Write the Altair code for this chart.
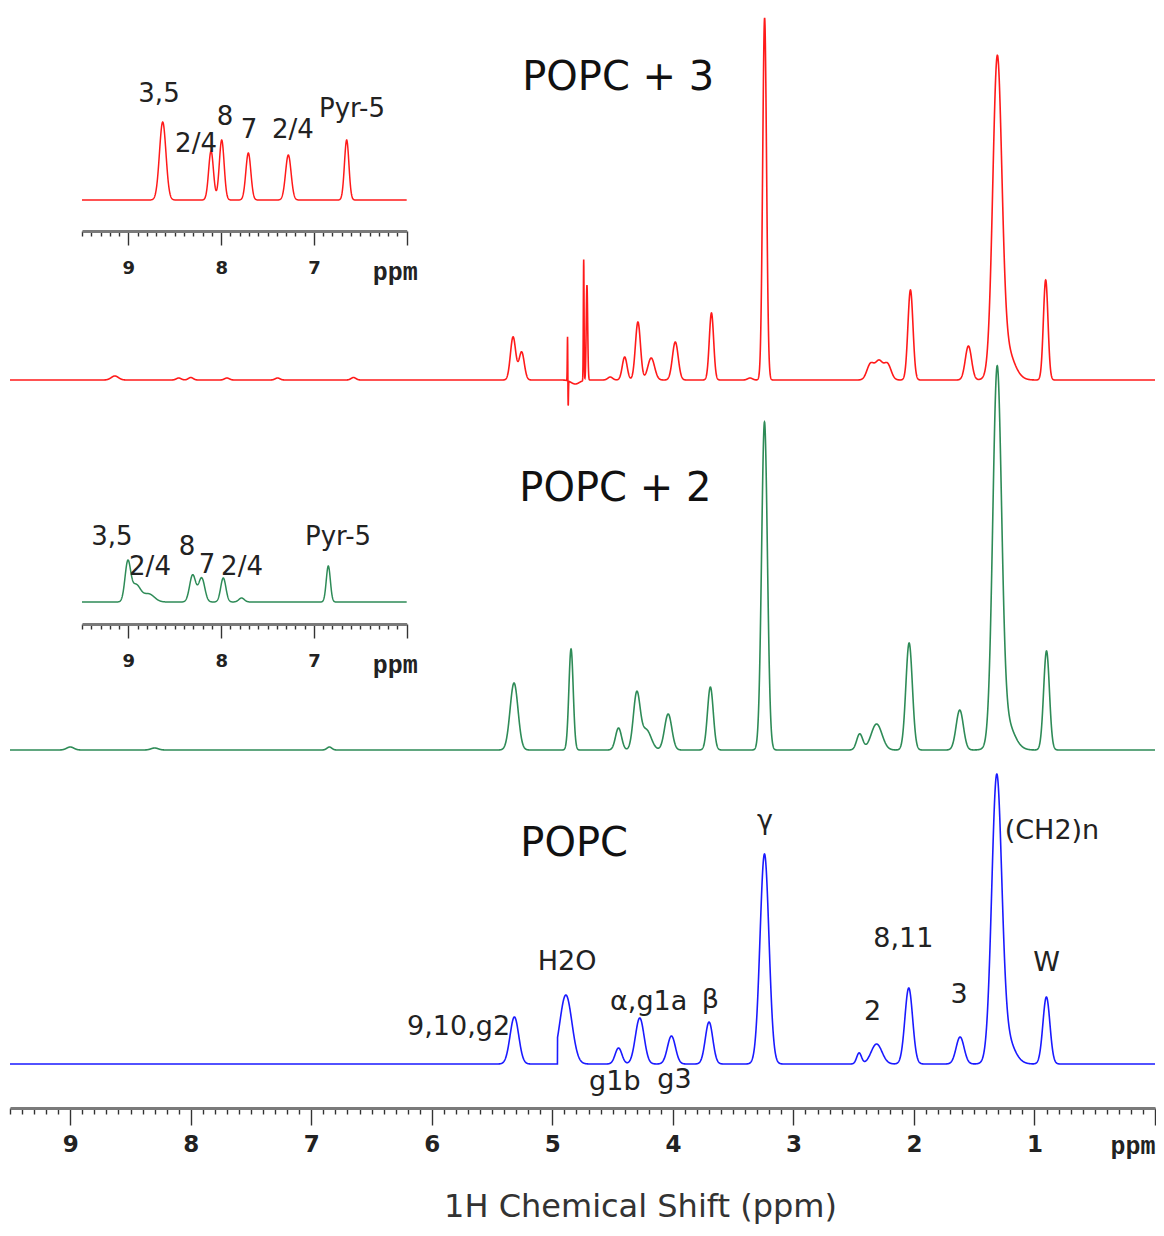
import numpy as np
import pandas as pd
import altair as alt

alt.data_transformers.disable_max_rows()

# ---------------- values ----------------
# Each spectrum is given as a peak list: shift (ppm), height, Gaussian width (ppm)

# POPC (blue)
popc_ppm    = [5.315, 4.888, 4.451, 4.275, 4.012, 3.700, 3.240, 2.455, 2.31, 2.043, 1.617, 1.314, 1.25, 0.901]
popc_height = [47,    69,    16,    46,    28,    42,    210,   11,    20,   76,    27,    270,   30,   67]
popc_width  = [0.036, 0.05,  0.028, 0.036, 0.033, 0.031, 0.037, 0.02,  0.045, 0.032, 0.033, 0.041, 0.07, 0.029]
popc_upper  = [np.inf, 4.957] + [np.inf] * 12   # water line is cut above 4.957 ppm

# POPC + 2 (green)
popc2_ppm    = [9.0,  8.3,  6.85, 5.318, 4.845, 4.451, 4.30, 4.22, 4.039, 3.689, 3.240, 2.45, 2.31, 2.04, 1.62, 1.31, 1.25, 0.90]
popc2_height = [3,    2,    3,    67,    101,   22,    56,   20,   36,    63,    328,   16,   26,   107,  40,   362,  32,   99]
popc2_width  = [0.03, 0.03, 0.02, 0.033, 0.018, 0.025, 0.028, 0.04, 0.03, 0.024, 0.024, 0.025, 0.045, 0.027, 0.03, 0.036, 0.07, 0.024]

# POPC + 3 (red)
popc3_ppm    = [8.63, 8.10, 8.00, 7.70, 7.28, 6.65, 5.326, 5.255, 4.874, 4.869, 4.81, 4.740, 4.713, 4.52, 4.40, 4.29,
                4.18, 3.98, 3.68, 3.36, 3.239, 2.36, 2.29, 2.22, 2.029, 1.548, 1.309, 1.25, 0.907]
popc3_height = [4,    2,    2.5,  2,    2,    2.5,  43,    28,    46,    -28,   -4,   121,   95,    3,    23,   58,
                22,   38,   67,   2,    362,   16,   18,   16,   90,    34,    300,   35,   100]
popc3_width  = [0.03, 0.02, 0.02, 0.02, 0.02, 0.02, 0.022, 0.022, 0.0022, 0.0022, 0.035, 0.003, 0.006, 0.02, 0.02, 0.021,
                0.028, 0.024, 0.018, 0.02, 0.016, 0.03, 0.03, 0.03, 0.021, 0.026, 0.037, 0.07, 0.019]

# aromatic insets
inset3_ppm    = [8.630, 8.109, 7.994, 7.707, 7.276, 6.647]
inset3_height = [78,    49,    60,    47,    45,    60]
inset3_width  = [0.035, 0.026, 0.026, 0.027, 0.03,  0.024]

inset2_ppm    = [9.007, 8.92, 8.78, 8.307, 8.21, 7.977, 7.78, 6.845]
inset2_height = [38,    17,   8,    27,    24,   24,    4,    36]
inset2_width  = [0.03,  0.05, 0.06, 0.033, 0.033, 0.028, 0.03, 0.022]

# annotations: (text, ppm, intensity level)
blue_labels = [("9,10,g2", 5.778, 73), ("H2O", 4.878, 138), ("α,g1a", 4.201, 98), ("β", 3.69, 100),
               ("g1b", 4.482, 18), ("g3", 3.987, 20), ("γ", 3.236, 279), ("8,11", 2.088, 161),
               ("2", 2.344, 88), ("3", 1.626, 105), ("W", 0.900, 137)]
blue_labels_left = [("(CH2)n", 1.247, 269)]
titles = [("POPC + 3", 5.25, 1018), ("POPC + 2", 5.274, 607), ("POPC", 5.266, 252)]
inset3_labels = [("3,5", 8.67, 1006), ("2/4", 8.271, 956), ("8", 7.959, 983), ("7", 7.70, 970),
                 ("2/4", 7.226, 970), ("Pyr-5", 6.59, 991)]
inset2_labels = [("3,5", 9.177, 563), ("2/4", 8.767, 533), ("8", 8.368, 553), ("7", 8.153, 535),
                 ("2/4", 7.775, 533), ("Pyr-5", 6.74, 563)]

# ---------------- layout constants ----------------
W, H = 1145, 1098
PAD = {"left": 2, "top": 2, "right": 1, "bottom": 116}
off_blue, off_green, off_red = 44, 358, 728
off_inset2, off_inset3 = 506, 908


def spectrum(grid, pos, hgt, wid, upper=None):
    y = np.zeros_like(grid)
    for i, (p, h, w) in enumerate(zip(pos, hgt, wid)):
        g = h * np.exp(-0.5 * ((grid - p) / w) ** 2)
        if upper is not None and np.isfinite(upper[i]):
            g = np.where(grid <= upper[i], g, 0.0)
        y += g
    return y


grid_main = np.round(np.arange(0.0, 9.5 + 1e-9, 0.001), 3)
grid_inset = np.round(np.arange(6.0, 9.5 + 1e-9, 0.002), 3)


def frame(grid, vals, off):
    return pd.DataFrame({"ppm": grid, "y": np.round(vals + off, 2)})


df_blue = frame(grid_main, spectrum(grid_main, popc_ppm, popc_height, popc_width, popc_upper), off_blue)
df_green = frame(grid_main, spectrum(grid_main, popc2_ppm, popc2_height, popc2_width), off_green)
df_red = frame(grid_main, spectrum(grid_main, popc3_ppm, popc3_height, popc3_width), off_red)
df_i3 = frame(grid_inset, spectrum(grid_inset, inset3_ppm, inset3_height, inset3_width), off_inset3)
df_i2 = frame(grid_inset, spectrum(grid_inset, inset2_ppm, inset2_height, inset2_width), off_inset2)


def lab(rows):
    return pd.DataFrame(rows, columns=["label", "ppm", "y"])


MAJOR = "abs(datum.value - round(datum.value)) < 0.001"


def make_axis(lo, hi, offset, lab_size, ppm_offset, major_len, minor_len, pad, title=None):
    end = f"datum.value == {lo}"
    kw = dict(
        values=[round(lo + 0.1 * k, 1) for k in range(int(round((hi - lo) * 10)) + 1)],
        orient="bottom",
        offset=offset,
        labelExpr=f"{MAJOR} ? ({end} ? 'ppm' : format(datum.value, 'd')) : ''",
        labelOverlap=False,
        labelFlush=False,
        labelFont={"condition": {"test": end, "value": "Liberation Mono"}, "value": "DejaVu Sans"},
        labelFontSize={"condition": {"test": end, "value": 25}, "value": lab_size},
        labelFontWeight="bold",
        labelAlign={"condition": {"test": end, "value": "right" if ppm_offset == 0 else "center"}, "value": "center"},
        labelOffset={"condition": {"test": end, "value": ppm_offset}, "value": 0},
        labelColor="#222",
        labelPadding=pad,
        tickSize={"condition": {"test": MAJOR, "value": major_len}, "value": minor_len},
        tickColor="#333",
        tickWidth=1.4,
        domainColor="#7a7a7a",
        domainWidth=3,
        grid=False,
    )
    if title:
        kw.update(title=title, titleFont="DejaVu Sans", titleFontSize=32, titleFontWeight="normal",
                  titleColor="#333", titleX=630, titleY=108, titleAlign="center", titleBaseline="alphabetic")
    else:
        kw.update(title=None)
    return alt.Axis(**kw)


main_axis = make_axis(0, 9.5, 0, 23, 0, 17, 6, 8, title="1H Chemical Shift (ppm)")
inset3_axis = make_axis(6, 9.5, 221 - H, 18, -12, 14, 5, 14)
inset2_axis = make_axis(6, 9.5, 614 - H, 18, -12, 14, 5, 14)

x_main = alt.X("ppm:Q", scale=alt.Scale(domain=[0, 9.5], reverse=True, nice=False, zero=False), axis=main_axis)
y_all = alt.Y("y:Q", scale=alt.Scale(domain=[0, H], nice=False, zero=False), axis=None)


def x_inset(axis):
    return alt.X("ppm:Q", scale=alt.Scale(domain=[6.0, 9.5], range=[72, 396.7], reverse=True, nice=False, zero=False),
                 axis=axis)


def line(df, color, x, width=1.6):
    return alt.Chart(df).mark_line(color=color, strokeWidth=width).encode(x=x, y=y_all)


def texts(df, x, size=27, align="center", color="#222"):
    return alt.Chart(df).mark_text(font="DejaVu Sans", fontSize=size, align=align, baseline="alphabetic",
                                   color=color).encode(x=x, y=y_all, text="label:N")


BLUE, GREEN, RED = "#1a1aff", "#2e8b57", "#ff1a1a"

main_group = alt.layer(
    line(df_blue, BLUE, x_main),
    line(df_green, GREEN, x_main),
    line(df_red, RED, x_main),
    texts(lab(blue_labels), x_main),
    texts(lab(blue_labels_left), x_main, align="left"),
    texts(lab(titles), x_main, size=40, align="left", color="#111"),
)

xi3 = x_inset(inset3_axis)
inset3_group = alt.layer(line(df_i3, RED, xi3, 1.5), texts(lab(inset3_labels), xi3, size=26))
xi2 = x_inset(inset2_axis)
inset2_group = alt.layer(line(df_i2, GREEN, xi2, 1.5), texts(lab(inset2_labels), xi2, size=26))

chart = (
    alt.layer(main_group, inset3_group, inset2_group)
    .resolve_scale(x="independent")
    .properties(width=W, height=H, padding=PAD, background="white",
                autosize=alt.AutoSizeParams(type="none"))
    .configure_view(stroke=None)
)

chart.save("out.html", embed_options={"renderer": "svg", "actions": False})
